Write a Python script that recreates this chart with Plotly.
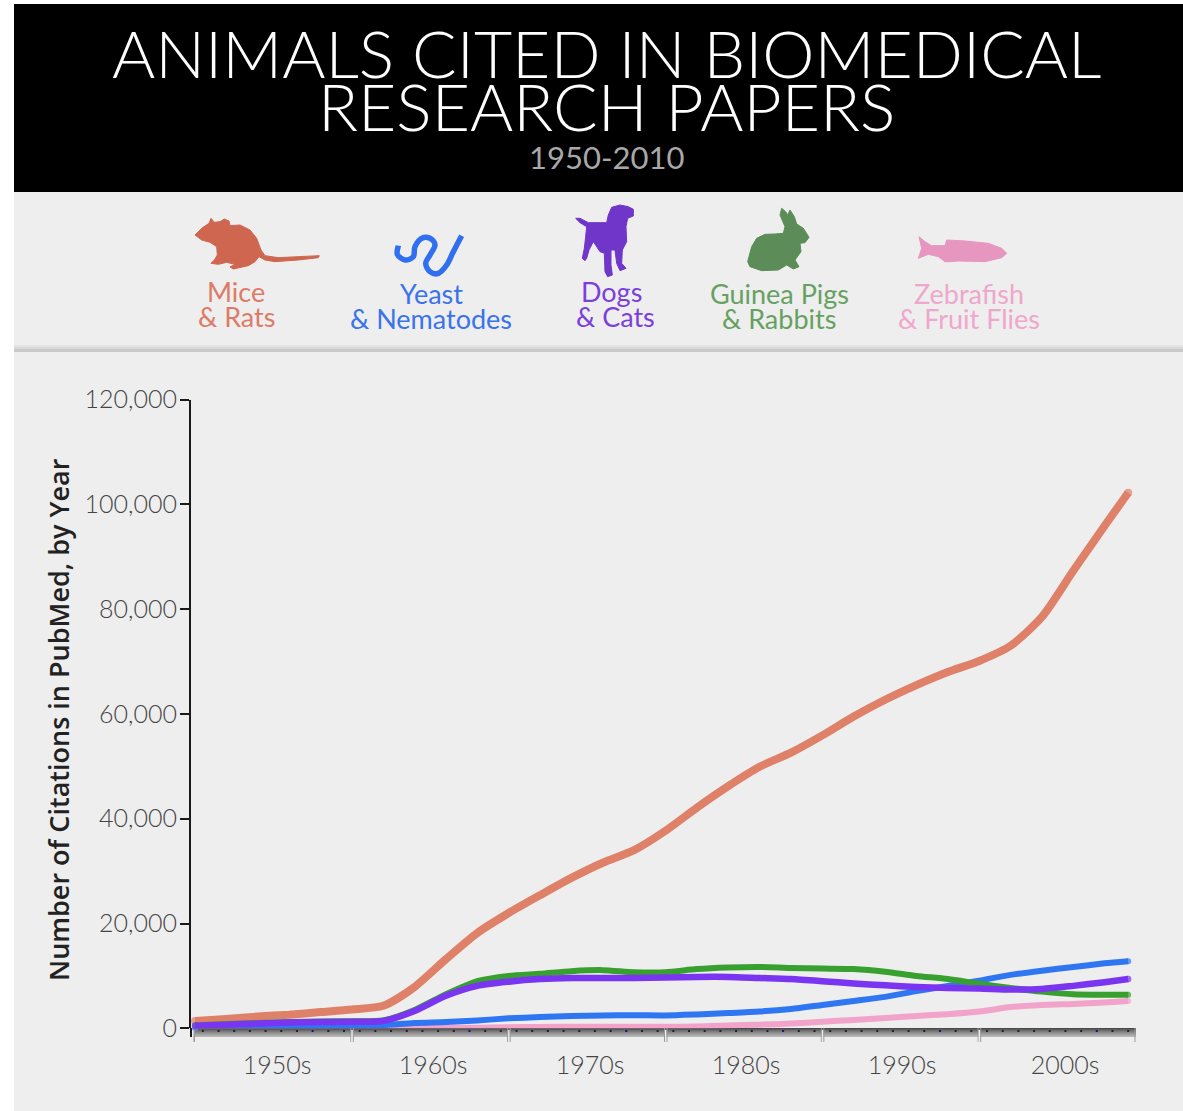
import plotly.graph_objects as go

# ---------- data ----------
years = [1950, 1952, 1954, 1956, 1958, 1960, 1962, 1964, 1966, 1968, 1970, 1972, 1974, 1976, 1978, 1980,
         1982, 1984, 1986, 1988, 1990, 1992, 1994, 1996, 1998, 2000, 2002, 2004, 2006, 2008, 2009.5]
mice = [1400, 1800, 2250, 2600, 3100, 3600, 4300, 7900, 13200, 18200, 22000, 25400, 28700, 31600, 34000, 37700,
        42100, 46200, 49900, 52600, 55900, 59500, 62700, 65500, 68000, 70100, 73000, 78500, 87300, 95900, 102200]
yeast = [100, 100, 150, 200, 250, 300, 600, 1000, 1200, 1500, 1900, 2150, 2350, 2450, 2500, 2450,
         2650, 2900, 3200, 3700, 4450, 5200, 6000, 7100, 8100, 9100, 10200, 11000, 11700, 12400, 12800]
dogs = [500, 700, 900, 1100, 1200, 1250, 1400, 3300, 6200, 8100, 8900, 9400, 9600, 9600, 9600, 9700,
        9800, 9800, 9600, 9400, 9000, 8550, 8200, 7900, 7700, 7600, 7400, 7500, 8100, 8800, 9400]
guinea = [600, 800, 1000, 1200, 1300, 1350, 1500, 3500, 6500, 9000, 10000, 10400, 10900, 11100, 10700, 10700,
          11300, 11600, 11700, 11500, 11400, 11300, 10800, 10000, 9400, 8500, 7700, 7000, 6500, 6400, 6400]
zebra = [50, 50, 50, 50, 50, 50, 50, 50, 100, 100, 200, 250, 300, 300, 300, 300,
         350, 550, 700, 900, 1250, 1600, 1950, 2350, 2700, 3200, 4050, 4450, 4650, 4900, 5200]

y_ticks = [0, 20000, 40000, 60000, 80000, 100000, 120000]
decades = [1950, 1960, 1970, 1980, 1990, 2000, 2010]
decade_label_pos = [1955.23, 1965.18, 1975.19, 1985.14, 1995.09, 2005.48]
decade_labels = ["1950s", "1960s", "1970s", "1980s", "1990s", "2000s"]
title_lines = ["ANIMALS CITED IN BIOMEDICAL", "RESEARCH PAPERS"]
subtitle = "1950-2010"
y_title = "Number of Citations in PubMed, by Year"

# ---------- layout helpers (pixel space of the 1183x1111 page) ----------
W, H = 1183, 1111
X0, X1 = 191, 1137          # plot area, pixels
Y_TOP, Y_ZERO = 399.5, 1028.3
PX_PER_YEAR = (1136 - 195) / 60
FONT = "Lato, 'Open Sans', sans-serif"


def px(x):
    return x / W


def py(y):
    return 1 - y / H


def rect(x0, y0, x1, y1, color, layer="below"):
    return dict(type="rect", xref="paper", yref="paper", x0=px(x0), x1=px(x1), y0=py(y0), y1=py(y1),
                fillcolor=color, line=dict(width=0), layer=layer)


def note(text, x, y, size, color, weight=None, family=FONT, angle=0):
    font = dict(size=size, color=color, family=family)
    if weight:
        font["weight"] = weight
    return dict(text=text, x=px(x), y=py(y), xref="paper", yref="paper", showarrow=False, textangle=angle,
                xanchor="center", yanchor="middle", font=font)


def poly(points, ox, oy, color):
    pts = [(ox + a / 3, oy + b / 3) for a, b in points]
    path = "M " + " L ".join(f"{px(a):.5f},{py(b):.5f}" for a, b in pts) + " Z"
    return dict(type="path", xref="paper", yref="paper", path=path, fillcolor=color,
                line=dict(color=color, width=1), layer="above")


def smooth_stroke(points, ox, oy, color, width):
    pts = [(px(ox + a / 3), py(oy + b / 3)) for a, b in points]
    d = f"M {pts[0][0]:.5f},{pts[0][1]:.5f}"
    for i in range(len(pts) - 1):
        p0 = pts[max(i - 1, 0)]
        p1 = pts[i]
        p2 = pts[i + 1]
        p3 = pts[min(i + 2, len(pts) - 1)]
        c1 = (p1[0] + (p2[0] - p0[0]) / 6, p1[1] + (p2[1] - p0[1]) / 6)
        c2 = (p2[0] - (p3[0] - p1[0]) / 6, p2[1] - (p3[1] - p1[1]) / 6)
        d += f" C {c1[0]:.5f},{c1[1]:.5f} {c2[0]:.5f},{c2[1]:.5f} {p2[0]:.5f},{p2[1]:.5f}"
    return dict(type="path", xref="paper", yref="paper", path=d, line=dict(color=color, width=width), layer="above")


# icon outlines
RAT = [(30, 90), (50, 70), (72, 55), (78, 40), (88, 52), (105, 50), (118, 42), (132, 48), (135, 62), (165, 60),
       (195, 75), (215, 100), (228, 135), (240, 152), (280, 158), (340, 155), (403, 152), (400, 158), (340, 165),
       (270, 170), (240, 165), (222, 155), (210, 170), (190, 182), (145, 192), (135, 186), (150, 178), (125, 172),
       (100, 178), (78, 175), (88, 165), (97, 150), (95, 125), (75, 112), (50, 105)]
WORM = [(640, 122), (637, 148), (660, 165), (685, 155), (690, 125), (710, 100), (735, 100), (750, 120),
        (735, 150), (722, 175), (735, 200), (760, 205), (785, 180), (805, 140), (830, 92)]
DOG = [(32, 55), (45, 55), (70, 68), (125, 68), (130, 45), (140, 22), (165, 15), (190, 20), (205, 28), (205, 48),
       (188, 55), (183, 80), (185, 125), (172, 150), (170, 190), (183, 205), (165, 212), (155, 190), (150, 150),
       (138, 150), (138, 195), (142, 225), (128, 230), (120, 215), (118, 160), (105, 155), (95, 140), (85, 125),
       (72, 150), (65, 175), (60, 182), (52, 175), (58, 145), (62, 110), (65, 80), (45, 68)]
RABBIT = [(548, 185), (560, 140), (575, 115), (600, 103), (630, 102), (655, 100), (660, 80), (645, 45), (650, 25),
          (662, 35), (668, 45), (675, 30), (688, 50), (695, 72), (715, 85), (732, 112), (720, 128), (705, 130),
          (708, 155), (690, 180), (702, 200), (685, 207), (665, 195), (640, 210), (590, 212), (555, 200)]
FISH = [(42, 35), (60, 50), (80, 62), (120, 62), (125, 45), (180, 48), (250, 55), (290, 70), (305, 85), (290, 98),
        (240, 110), (160, 108), (135, 110), (120, 110), (100, 95), (70, 88), (40, 100), (50, 70)]

# ---------- traces, bottom to top ----------
series = [
    ("Zebrafish & Fruit Flies", zebra, "#f2a3c9", 6),
    ("Yeast & Nematodes", yeast, "#2f76f2", 6),
    ("Mice & Rats", mice, "#df8069", 8),
    ("Guinea Pigs & Rabbits", guinea, "#38a02f", 6),
    ("Dogs & Cats", dogs, "#7a35f0", 6.5),
]
fig = go.Figure()
for name, vals, color, width in series:
    sizes = [width] + [0] * (len(vals) - 2) + [width]
    fig.add_trace(go.Scatter(x=years, y=vals, name=name, mode="lines+markers",
                             line=dict(color=color, width=width, shape="spline", smoothing=0.7),
                             marker=dict(size=sizes, color=color, line=dict(width=0)),
                             cliponaxis=False, showlegend=False))

# ---------- panels ----------
shapes = [
    rect(14, 192, W, H, "#eeeeee"),
    rect(14, 4, W, 192, "#000000"),
    rect(14, 345, W, 347, "#e4e4e4"),
    rect(14, 347, W, 349, "#d8d8d8"),
    rect(14, 349, W, 352, "#c9c9c9"),
]
# ruler band below the x axis
band = ["#4a4a4a", "#5c5c5c", "#6c6c6c", "#7c7c7c", "#8a8a8a", "#969696", "#a2a2a2", "#adadad", "#b8b8b8"]
for i, c in enumerate(band):
    shapes.append(rect(195, 1028 + i, 1136, 1029 + i, c))


def year_px(v):
    return 195 + (v - 1950) * PX_PER_YEAR


for d in decades:
    x = year_px(d)
    shapes.append(rect(x - 1.5, 1028, x - 0.5 if d != 1950 else x, 1042, "#9a9a9a"))
    if d not in (1950, 2010):
        shapes.append(rect(x - 0.5, 1030, x + 1, 1042, "#eeeeee"))
        shapes.append(rect(x + 1, 1028, x + 2, 1042, "#9a9a9a"))
for d in decades[:-1]:
    for k in range(10):
        x = year_px(d + k + 0.5)
        shapes.append(rect(x - 1, 1030, x + 1, 1032, "#2a0a80" if k == 7 else "#222222"))
# y axis runs down through the band
shapes.append(rect(190, 1028, 192, 1037, "#1a1a1a", layer="above"))

# icons
shapes += [
    poly(RAT, 185, 205, "#cf664f"),
    smooth_stroke(WORM, 185, 205, "#2f6ff0", 5.5),
    poly(DOG, 565, 200, "#6f36c9"),
    poly(RABBIT, 565, 200, "#5c8c58"),
    poly(FISH, 905, 225, "#e796bf"),
]

# ---------- text ----------
annotations = [
    note(title_lines[0], 606, 53, 66, "#ffffff", 300),
    note(title_lines[1], 606, 105, 66, "#ffffff", 300),
    note(subtitle, 606, 157, 31, "#a8a8a8"),
    note(y_title, 58, 720, 27, "#222222", 600, "'Open Sans', sans-serif", -90),
]
labels = [
    ("Mice", 236, 292, "#dd7b68"), ("&amp; Rats", 236, 317, "#dd7b68"),
    ("Yeast", 431, 293, "#3a73ea"), ("&amp; Nematodes", 431, 318, "#3a73ea"),
    ("Dogs", 611, 292, "#7b3fdc"), ("&amp; Cats", 615, 317, "#7b3fdc"),
    ("Guinea Pigs", 779, 293, "#66a161"), ("&amp; Rabbits", 779, 318, "#66a161"),
    ("Zebrafish", 969, 293, "#efa7cc"), ("&amp; Fruit Flies", 969, 318, "#efa7cc"),
]
for t, x, y, c in labels:
    annotations.append(note(t, x, y, 27, c))

fig.update_layout(
    width=W, height=H, autosize=False,
    margin=dict(l=0, r=0, t=0, b=0, pad=0, autoexpand=False),
    paper_bgcolor="#ffffff", plot_bgcolor="rgba(0,0,0,0)",
    font=dict(family=FONT),
    shapes=shapes, annotations=annotations, showlegend=False,
    xaxis=dict(domain=[px(X0), px(X1)],
               range=[1950 + (X0 - 195) / PX_PER_YEAR, 1950 + (X1 - 195) / PX_PER_YEAR],
               tickmode="array", tickvals=decade_label_pos, ticktext=decade_labels,
               ticks="outside", ticklen=15, tickcolor="rgba(0,0,0,0)",
               showgrid=False, zeroline=False, showline=False,
               tickfont=dict(size=25, color="#444444", family=FONT, weight=300)),
    yaxis=dict(domain=[py(Y_ZERO), py(Y_TOP)], range=[0, 120000],
               tickmode="array", tickvals=y_ticks, tickformat=",",
               ticks="outside", ticklen=9, tickwidth=2, tickcolor="#1a1a1a", ticklabelstandoff=-2,
               showgrid=False, zeroline=False, showline=True, linecolor="#1a1a1a", linewidth=2,
               tickfont=dict(size=25, color="#444444", family=FONT, weight=300)),
)

fig.write_html("out.html", config=dict(displayModeBar=False),
               post_script="document.body.style.margin='0';document.body.style.overflow='hidden';")
